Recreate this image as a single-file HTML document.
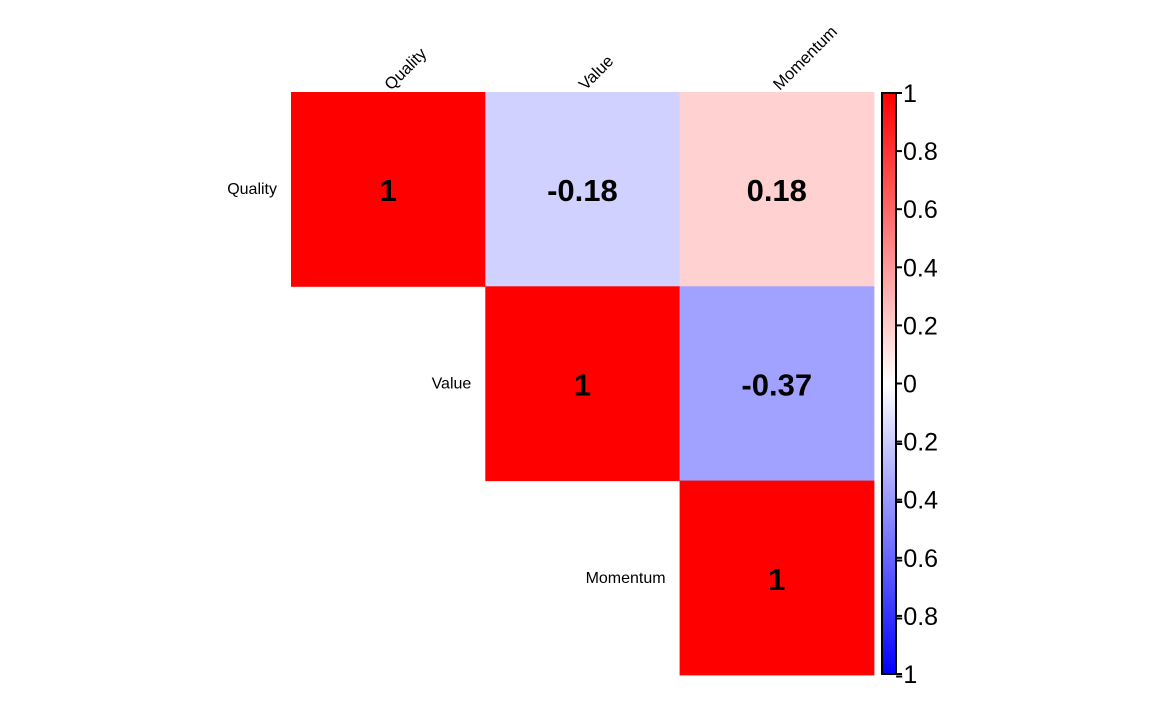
<!DOCTYPE html>
<html><head><meta charset="utf-8"><style>
body{margin:0;background:#fff;width:1152px;height:711px;overflow:hidden}
svg text{font-family:"Liberation Sans",Arial,sans-serif}
</style></head><body>
<svg id="c" width="1152" height="711"></svg>
<script>
const vars=["Quality","Value","Momentum"];
const corrRow0=[1,-0.18,0.18];
const corrRow1=[null,1,-0.37];
const corrRow2=[null,null,1];
const corrLabels0=["1","-0.18","0.18"];
const corrLabels1=["","1","-0.37"];
const corrLabels2=["","","1"];
const ticks=[1,0.8,0.6,0.4,0.2,0,-0.2,-0.4,-0.6,-0.8,-1];
const tickLabels=["1","0.8","0.6","0.4","0.2","0","-0.2","-0.4","-0.6","-0.8","-1"];
const rows=[corrRow0,corrRow1,corrRow2], labs=[corrLabels0,corrLabels1,corrLabels2];
const NS="http://www.w3.org/2000/svg", svg=document.getElementById('c');
const x0=291,y0=92,cs=194.3;
function mk(t,a,p){const e=document.createElementNS(NS,t);for(const k in a)e.setAttribute(k,a[k]);(p||svg).appendChild(e);return e;}
function col(v){const t=Math.abs(v);const c=Math.round(255*(1-t));return v>=0?`rgb(255,${c},${c})`:`rgb(${c},${c},255)`;}
rows.forEach((r,i)=>r.forEach((v,j)=>{if(v===null)return;
 const e=mk('rect',{x:x0+j*cs,y:y0+i*cs,width:cs+0.5,height:cs+0.5,fill:col(v)});
 
 
 const t=mk('text',{x:x0+j*cs+cs/2,y:y0+i*cs+cs/2+12,'text-anchor':'middle','font-size':31,'font-weight':'bold',fill:'#000'});
 t.textContent=labs[i][j];
 
 
}));
vars.forEach((n,i)=>{
 const t=mk('text',{x:x0+i*cs-14,y:y0+i*cs+cs/2+5,'text-anchor':'end','font-size':16,fill:'#000'});
 t.textContent=n;
 
 
 const cx=x0+i*cs+cs/2+3, cy=91;
 const u=mk('text',{x:cx,y:cy,'font-size':16.5,fill:'#000',transform:`rotate(-45 ${cx} ${cy})`});
 u.textContent=n;
 
 
});
const defs=mk('defs',{});const g=mk('linearGradient',{id:'gr',x1:0,y1:0,x2:0,y2:1},defs);
mk('stop',{offset:'0',"stop-color":'#f00'},g);mk('stop',{offset:'0.5',"stop-color":'#fff'},g);mk('stop',{offset:'1',"stop-color":'#00f'},g);
const by0=93,by1=674;const yb=v=>by0+(1-v)/2*(by1-by0);
const bar=mk('rect',{x:882,y:by0,width:14,height:by1-by0,fill:'url(#gr)',stroke:'#000','stroke-width':2});


ticks.forEach((v,k)=>{
 mk('line',{x1:896,x2:902,y1:yb(v),y2:yb(v),stroke:'#000','stroke-width':2});
 const neg=v<0;
 const t=mk('text',{x:neg?895:903,y:yb(v)+9,'font-size':25,fill:'#000'});
 t.textContent=tickLabels[k];
 
 
});
</script>
</body></html>
